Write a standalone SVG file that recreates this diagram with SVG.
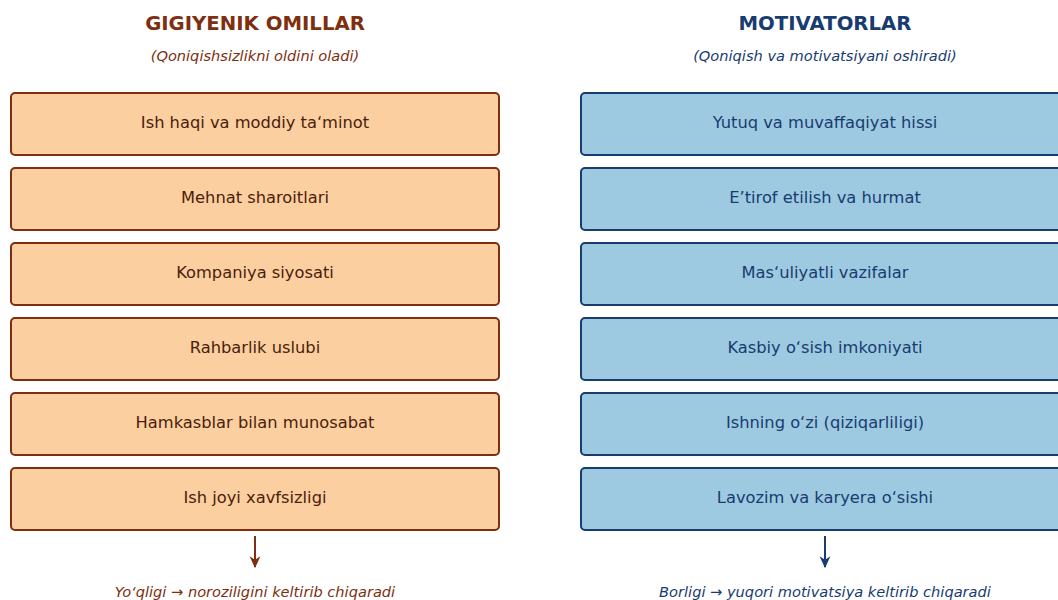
<svg xmlns="http://www.w3.org/2000/svg" width="1058" height="600" viewBox="0 0 1058 600">
  <defs>
    <style>
      text { font-family: "DejaVu Sans", "Liberation Sans", sans-serif; text-anchor: middle; }
      .title { font-size: 19.7px; font-weight: bold; }
      .sub { font-size: 14.6px; font-style: italic; }
      .lbl { font-size: 16.3px; }
      .note { font-size: 14.6px; font-style: italic; }
      .hyg rect { fill: #fbcfa0; stroke: #7e2f0f; stroke-width: 2; }
      .hyg text { fill: #4a1e0c; }
      .mot rect { fill: #9ecae1; stroke: #183c70; stroke-width: 2; }
      .mot text { fill: #183c70; }
      .hyg-c { fill: #7e2f0f; }
      .mot-c { fill: #183c70; }
    </style>
    <marker id="ah-hyg" viewBox="0 0 10 10" refX="9" refY="5" markerWidth="6" markerHeight="6" orient="auto" markerUnits="strokeWidth">
      <path d="M0,0.5 L10,5 L0,9.5 L3,5 z" fill="#7e2f0f"/>
    </marker>
    <marker id="ah-mot" viewBox="0 0 10 10" refX="9" refY="5" markerWidth="6" markerHeight="6" orient="auto" markerUnits="strokeWidth">
      <path d="M0,0.5 L10,5 L0,9.5 L3,5 z" fill="#183c70"/>
    </marker>
  </defs>
  <rect width="1058" height="600" fill="#ffffff"/>

  <!-- Column headings -->
  <g id="head-hyg">
    <text class="title hyg-c" x="255" y="30">GIGIYENIK OMILLAR</text>
    <text class="sub hyg-c" x="255" y="61">(Qoniqishsizlikni oldini oladi)</text>
  </g>
  <g id="head-mot">
    <text class="title mot-c" x="825" y="30">MOTIVATORLAR</text>
    <text class="sub mot-c" x="825" y="61">(Qoniqish va motivatsiyani oshiradi)</text>
  </g>

  <!-- Hygiene factors -->
  <g id="h1" class="hyg"><rect x="11" y="93" width="488" height="62" rx="4"/><text class="lbl" x="255" y="128">Ish haqi va moddiy ta‘minot</text></g>
  <g id="h2" class="hyg"><rect x="11" y="168" width="488" height="62" rx="4"/><text class="lbl" x="255" y="203">Mehnat sharoitlari</text></g>
  <g id="h3" class="hyg"><rect x="11" y="243" width="488" height="62" rx="4"/><text class="lbl" x="255" y="278">Kompaniya siyosati</text></g>
  <g id="h4" class="hyg"><rect x="11" y="318" width="488" height="62" rx="4"/><text class="lbl" x="255" y="353">Rahbarlik uslubi</text></g>
  <g id="h5" class="hyg"><rect x="11" y="393" width="488" height="62" rx="4"/><text class="lbl" x="255" y="428">Hamkasblar bilan munosabat</text></g>
  <g id="h6" class="hyg"><rect x="11" y="468" width="488" height="62" rx="4"/><text class="lbl" x="255" y="503">Ish joyi xavfsizligi</text></g>

  <!-- Motivators -->
  <g id="m1" class="mot"><rect x="581" y="93" width="488" height="62" rx="4"/><text class="lbl" x="825" y="128">Yutuq va muvaffaqiyat hissi</text></g>
  <g id="m2" class="mot"><rect x="581" y="168" width="488" height="62" rx="4"/><text class="lbl" x="825" y="203">E’tirof etilish va hurmat</text></g>
  <g id="m3" class="mot"><rect x="581" y="243" width="488" height="62" rx="4"/><text class="lbl" x="825" y="278">Mas‘uliyatli vazifalar</text></g>
  <g id="m4" class="mot"><rect x="581" y="318" width="488" height="62" rx="4"/><text class="lbl" x="825" y="353">Kasbiy o‘sish imkoniyati</text></g>
  <g id="m5" class="mot"><rect x="581" y="393" width="488" height="62" rx="4"/><text class="lbl" x="825" y="428">Ishning o‘zi (qiziqarliligi)</text></g>
  <g id="m6" class="mot"><rect x="581" y="468" width="488" height="62" rx="4"/><text class="lbl" x="825" y="503">Lavozim va karyera o‘sishi</text></g>

  <!-- Connectors -->
  <g id="connectors">
    <line x1="255" y1="536" x2="255" y2="567" stroke="#7e2f0f" stroke-width="2" marker-end="url(#ah-hyg)"/>
    <line x1="825" y1="536" x2="825" y2="567" stroke="#183c70" stroke-width="2" marker-end="url(#ah-mot)"/>
  </g>

  <!-- Outcome notes -->
  <g id="note-hyg">
    <text class="note hyg-c" x="255" y="597">Yo‘qligi → noroziligini keltirib chiqaradi</text>
  </g>
  <g id="note-mot">
    <text class="note mot-c" x="825" y="597">Borligi → yuqori motivatsiya keltirib chiqaradi</text>
  </g>
</svg>
